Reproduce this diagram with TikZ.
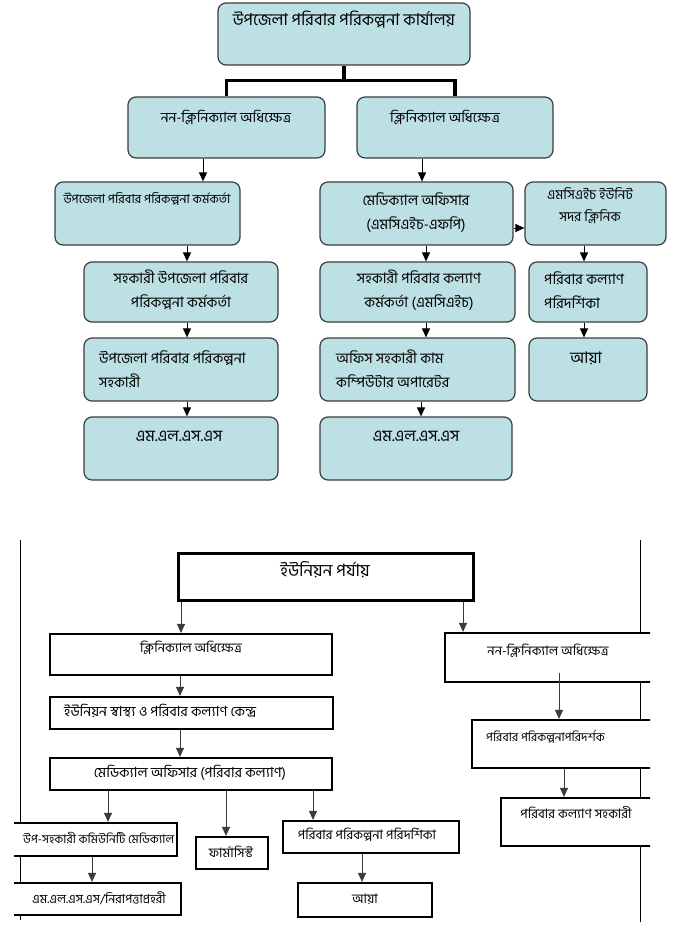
\documentclass[tikz,border=0pt]{standalone}
\usepackage{fontspec}
\newfontfamily\bn[Script=Bengali]{Hind Siliguri}
\usetikzlibrary{arrows.meta}
\usetikzlibrary{positioning}
\usetikzlibrary{calc}
\definecolor{boxblue}{RGB}{188,224,227}
\definecolor{rimgray}{RGB}{60,60,60}
\tikzstyle{roundbox}=[rectangle,rounded corners=8pt,draw=rimgray,fill=boxblue,line width=1.2pt,inner sep=0pt]
\tikzstyle{plainbox}=[rectangle,draw=black,fill=white,line width=2.2pt,inner sep=0pt]
\tikzstyle{edge} = [draw,line width=1pt,-{Triangle[length=9pt,width=8pt]}]
\tikzstyle{trunk} = [draw,line width=3.5pt]
\tikzstyle{bigtext} = [font=\bn\fontsize{14.5}{24}\selectfont,inner sep=0pt,align=center]
\tikzstyle{smalltext} = [font=\bn\fontsize{13}{15}\selectfont,inner sep=0pt,align=center]

\begin{document}
\begin{tikzpicture}[x=1pt,y=-1pt]
  \useasboundingbox (0,0) rectangle (678,940);
  % Upazila office chart
  % First we draw the boxes
  \foreach \pos/\name/\w/\h in {{(344,34)/office/252/62},
    {(226.5,127.5)/nonclin/197/61}, {(455,127.5)/clin/196/61},
    {(147.5,213.5)/upfpo/185/63}, {(416.5,213.5)/mofp/193/63}, {(595.5,213.5)/mchunit/141/63},
    {(181,292)/aupfpo/194/60}, {(417.5,292)/afwo/195/60}, {(588,292)/fwv/118/60},
    {(181,369.5)/upfpa/194/63}, {(417.5,369.5)/oaco/195/63}, {(588,369.5)/ayaup/118/63},
    {(181,448.5)/mlssleft/194/63}, {(416,448.5)/mlssright/192/63}}
      \node[roundbox,minimum width=\w pt,minimum height=\h pt] (\name) at \pos {};

  % the thick trunk under the office
  \draw[trunk] (office.south) -- ++(0,15) coordinate (split);
  \draw[trunk] (nonclin.north) |- (split) -| (clin.north);

  % Connect boxes with arrows
  \foreach \source/\dest/\x in {nonclin/upfpo/203, clin/mofp/422,
    upfpo/aupfpo/187, mofp/afwo/426, mchunit/fwv/584,
    aupfpo/upfpa/187, afwo/oaco/426, fwv/ayaup/584,
    upfpa/mlssleft/187, oaco/mlssright/421}
      \path[edge] (\x,0 |- \source.south) -- (\x,0 |- \dest.north);
  \path[edge] (mofp.east |- 0,228) -- (mchunit.west |- 0,228);

  \node[bigtext,font=\bn\fontsize{16.5}{20}\selectfont] (toffice) at (344,20) {উপজেলা পরিবার পরিকল্পনা কার্যালয়};
  \node[bigtext,font=\bn\fontsize{14}{20}\selectfont] (tnonclin) at (226,117) {নন-ক্লিনিক্যাল অধিক্ষেত্র};
  \node[bigtext,font=\bn\fontsize{14}{20}\selectfont] (tclin) at (445,117) {ক্লিনিক্যাল অধিক্ষেত্র};
  \node[bigtext,font=\bn\fontsize{12.5}{20}\selectfont] (tupfpo) at (147,199) {উপজেলা পরিবার পরিকল্পনা কর্মকর্তা};
  \node[bigtext] (tmofp) at (416,213) {মেডিক্যাল অফিসার\\(এমসিএইচ-এফপি)};
  \node[bigtext,font=\bn\fontsize{13.5}{22}\selectfont] (tmchunit) at (590,206) {এমসিএইচ ইউনিট\\সদর ক্লিনিক};
  \node[bigtext] (taupfpo) at (181,290) {সহকারী উপজেলা পরিবার\\পরিকল্পনা কর্মকর্তা};
  \node[bigtext] (tafwo) at (419,290) {সহকারী পরিবার কল্যাণ\\কর্মকর্তা (এমসিএইচ)};
  \node[bigtext,anchor=west,align=left] (tfwv) at (544,290) {পরিবার কল্যাণ\\পরিদর্শিকা};
  \node[bigtext,anchor=west,align=left] (tupfpa) at (99,369) {উপজেলা পরিবার পরিকল্পনা\\সহকারী};
  \node[bigtext,anchor=west,align=left] (toaco) at (336,369) {অফিস সহকারী কাম\\কম্পিউটার অপারেটর};
  \node[bigtext,font=\bn\fontsize{16}{20}\selectfont] (tayaup) at (586,358) {আয়া};
  \node[bigtext,font=\bn\fontsize{16}{20}\selectfont] (tmlssleft) at (179,436) {এম.এল.এস.এস};
  \node[bigtext,font=\bn\fontsize{16}{20}\selectfont] (tmlssright) at (416,436) {এম.এল.এস.এস};

  % Union level chart
  \draw[line width=0.9pt] (20,540) coordinate (lefttop) -- (20,920) coordinate (leftbot);
  \draw[line width=0.9pt] (640,540) coordinate (righttop) -- (640,922) coordinate (rightbot);

  \node[plainbox,line width=3pt,minimum width=295pt,minimum height=47pt] (union) at (325.5,576.5) {};
  \begin{scope}
    \clip (14,530) rectangle (650,940);
    \foreach \pos/\name/\w/\h in {{(191,654.5)/uclin/282/41}, {(549.5,657.5)/unonclin/209/49},
      {(191.5,713)/uhfwc/283/32}, {(191,774)/umo/282/32},
      {(563,744)/fpi/182/48}, {(577.5,822)/fwa/153/48},
      {(93.5,839.5)/sacmo/167/33}, {(95.5,899)/mlssguard/171/32},
      {(232,853)/pharm/72/32}, {(371,837)/fpv/176/32}, {(365,900)/ayadown/134/34}}
        \node[plainbox,minimum width=\w pt,minimum height=\h pt] (\name) at \pos {};
  \end{scope}

  \foreach \source/\dest/\x in {union/uclin/181, union/unonclin/463,
    uclin/uhfwc/180, uhfwc/umo/180, fpi/fwa/564,
    umo/sacmo/108, umo/pharm/226, umo/fpv/313,
    sacmo/mlssguard/92, fpv/ayadown/362}
      \path[edge,draw=rimgray] (\x,0 |- \source.south) -- (\x,0 |- \dest.north);
  \path[edge,draw=rimgray] (559,673) -- (559,0 |- fpi.north);

  \node[smalltext,font=\bn\fontsize{17}{20}\selectfont] (tunion) at (325,570) {ইউনিয়ন পর্যায়};
  \node[smalltext] (tuclin) at (191,648) {ক্লিনিক্যাল অধিক্ষেত্র};
  \node[smalltext] (tunonclin) at (548,651) {নন-ক্লিনিক্যাল অধিক্ষেত্র};
  \node[smalltext,anchor=west,font=\bn\fontsize{14}{16}\selectfont] (tuhfwc) at (64,711) {ইউনিয়ন স্বাস্থ্য ও পরিবার কল্যাণ কেন্দ্র};
  \node[smalltext,font=\bn\fontsize{14}{16}\selectfont] (tumo) at (190,773) {মেডিক্যাল অফিসার (পরিবার কল্যাণ)};
  \node[smalltext,anchor=west,font=\bn\fontsize{12}{14}\selectfont] (tfpi) at (486,737) {পরিবার পরিকল্পনাপরিদর্শক};
  \node[smalltext] (tfwa) at (576,813) {পরিবার কল্যাণ সহকারী};
  \node[smalltext,anchor=west,font=\bn\fontsize{12}{14}\selectfont] (tsacmo) at (23,838) {উপ-সহকারী কমিউনিটি মেডিক্যাল};
  \node[smalltext,font=\bn\fontsize{12.5}{15}\selectfont] (tmlssguard) at (99,898) {এম.এল.এস.এস/নিরাপত্তাপ্রহরী};
  \node[smalltext] (tpharm) at (231,852) {ফার্মাসিস্ট};
  \node[smalltext] (tfpv) at (367,835) {পরিবার পরিকল্পনা পরিদর্শিকা};
  \node[smalltext] (tayadown) at (365,899) {আয়া};
\end{tikzpicture}
\end{document}
